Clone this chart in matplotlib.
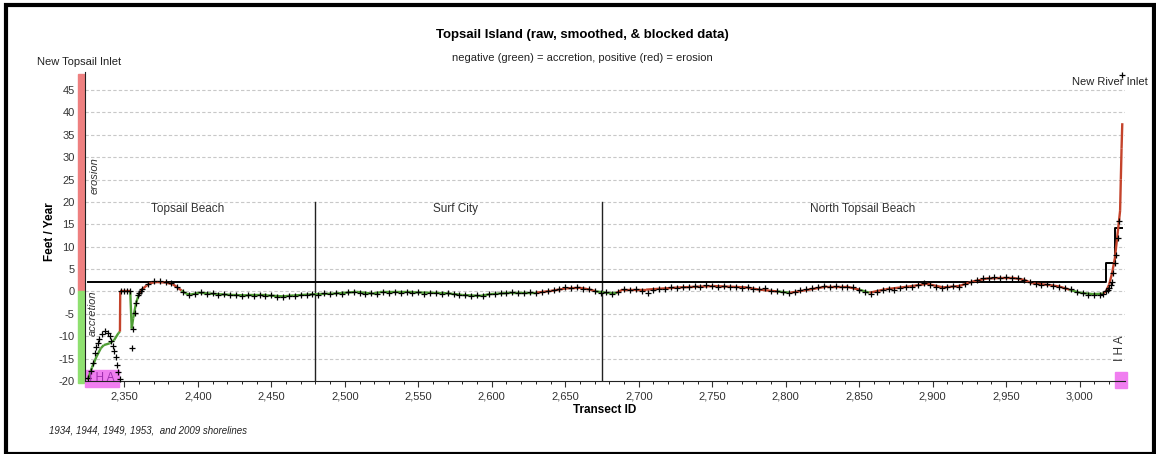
import numpy as np
import matplotlib
matplotlib.use("Agg")
import matplotlib.pyplot as plt
from matplotlib.collections import LineCollection
from matplotlib.patches import Rectangle
from matplotlib.ticker import MultipleLocator, FuncFormatter

plt.rcParams['font.family'] = ['Liberation Sans', 'DejaVu Sans']
plt.rcParams['axes.unicode_minus'] = False

# smoothed rate (feet / year) at transect IDs
sm_ids = [2325, 2328, 2331, 2334, 2336, 2340, 2343, 2346, 2347, 2347.2, 2354, 2355,
          2356, 2358, 2360, 2362, 2365, 2368, 2372, 2378, 2383, 2386, 2389, 2392,
          2395, 2401, 2413, 2424, 2435, 2447, 2458, 2465, 2481, 2492, 2508, 2519,
          2524, 2546, 2569, 2580, 2592, 2599, 2614, 2630, 2640, 2651, 2660, 2667,
          2671, 2678, 2685, 2689, 2705, 2728, 2751, 2773, 2782, 2794, 2803, 2812,
          2828, 2841, 2850, 2857, 2868, 2884, 2896, 2907, 2918, 2927, 2937, 2946,
          2955, 2962, 2968, 2980, 2986, 2993, 3000, 3009, 3016, 3018, 3020, 3022,
          3024, 3026, 3027.5, 3028, 3028.5, 3029]
sm_vals = [-19.8, -17.0, -14.6, -12.7, -12.0, -11.6, -10.9, -9.3, -9.0, 0.0, 0.0, -8.3,
           -6.0, -2.5, -0.6, 0.4, 1.3, 1.9, 2.1, 2.0, 1.6, 0.9, 0.2, -0.5,
           -0.7, -0.3, -0.6, -0.8, -0.9, -0.9, -1.1, -0.9, -0.6, -0.5, -0.1, -0.5,
           -0.2, -0.2, -0.4, -0.8, -1.0, -0.6, -0.3, -0.3, 0.1, 0.7, 0.8, 0.4,
           0.0, -0.3, -0.3, 0.4, 0.4, 0.9, 1.2, 0.9, 0.4, 0.0, -0.3, 0.2,
           1.1, 1.1, 0.4, -0.3, 0.5, 1.1, 1.7, 0.9, 1.2, 2.2, 2.9, 3.0,
           3.0, 2.6, 1.8, 1.4, 1.1, 0.4, -0.3, -0.6, -0.5, 0.1, 1.5, 4.0,
           7.5, 13.5, 18.0, 25.0, 32.0, 37.6]

# raw rates, left inlet area
raw_left_ids = [2325, 2327, 2329, 2330, 2331, 2332, 2333, 2335, 2337, 2339, 2340, 2341,
                2342, 2343, 2344, 2345, 2346, 2347, 2348, 2350, 2352, 2354, 2355, 2356,
                2357, 2358, 2359, 2360, 2361]
raw_left_vals = [-19.3, -17.8, -16.0, -13.8, -12.5, -11.6, -10.6, -9.5, -8.8, -9.2, -9.9, -11.0,
                 -12.2, -13.4, -14.6, -16.5, -18.0, -19.5, 0.0, 0.0, 0.0, 0.0, -12.7, -8.3,
                 -4.9, -2.6, -0.9, -0.3, 0.2]

# raw rates along the island, every 4th transect from 2362
raw_ids = np.arange(2362, 3015, 4)
raw_vals = [
    0.6, 1.6, 2.3, 2.4, 2.1, 1.8, 1.0, -0.2, -0.9, -0.5,
    -0.2, -0.6, -0.4, -0.8, -0.6, -0.9, -0.7, -1.0, -0.8, -1.0,
    -0.7, -1.1, -0.9, -1.2, -1.3, -1.0, -1.1, -0.7, -0.8, -0.5,
    -0.7, -0.4, -0.6, -0.3, -0.5, -0.2, -0.1, -0.4, -0.6, -0.3,
    -0.5, -0.1, -0.3, -0.2, -0.4, -0.1, -0.3, -0.2, -0.5, -0.3,
    -0.4, -0.6, -0.3, -0.6, -0.9, -0.7, -1.1, -0.9, -1.0, -0.5,
    -0.6, -0.3, -0.4, -0.2, -0.4, -0.3, -0.1, -0.4, -0.2, 0.2,
    0.3, 0.6, 0.9, 0.7, 1.0, 0.6, 0.5, 0.1, -0.4, -0.2,
    -0.6, -0.1, 0.6, 0.3, 0.5, 0.2, -0.3, 0.4, 0.6, 0.5,
    0.9, 0.7, 1.1, 1.0, 1.3, 1.1, 1.4, 1.2, 1.0, 1.3,
    0.9, 1.1, 0.8, 1.0, 0.6, 0.5, 0.7, 0.2, 0.1, -0.2,
    -0.4, -0.1, 0.3, 0.5, 0.7, 0.9, 1.2, 1.0, 1.3, 1.1,
    0.9, 1.0, 0.4, -0.1, -0.5, -0.2, 0.3, 0.6, 0.4, 0.8,
    1.1, 0.9, 1.4, 1.8, 1.5, 1.1, 0.8, 1.0, 1.2, 1.1,
    1.6, 2.1, 2.6, 2.9, 3.1, 3.2, 3.0, 3.3, 3.1, 2.9,
    2.6, 2.0, 1.7, 1.5, 1.6, 1.2, 1.0, 0.7, 0.5, -0.1,
    -0.4, -0.7, -0.8, -0.7]

# raw rates, right inlet area
raw_right_ids = [3016, 3018, 3019, 3020, 3021, 3022, 3023, 3024, 3025, 3026, 3027, 3029]
raw_right_vals = [-0.5, 0.0, 0.4, 0.8, 1.5, 2.2, 4.1, 6.4, 8.1, 11.9, 15.8, 48.3]

# blocked rates (step line)
block_ids = [2325, 3018, 3024, 3029]
block_vals = [2.0, 6.4, 14.1, 14.1]

# community boundaries
boundaries = [2480, 2675]
regions = ['Topsail Beach', 'Surf City', 'North Topsail Beach']
region_x = [2393, 2575, 2852]

fig = plt.figure(figsize=(11.56, 4.54), dpi=100)
ax = fig.add_axes([0.0735, 0.161, 0.8995, 0.68])
ax.set_xlim(2323.2, 3030.7)
ax.set_ylim(-20, 49)

# gridlines
for v in range(-15, 50, 5):
    ax.axhline(v, color='#c8c8c8', lw=0.8, ls=(0, (3, 2)), zorder=0)

# boundaries and region names
for b in boundaries:
    ax.plot([b, b], [-20, 20], color='#222222', lw=1.0, zorder=1)
for name, rx in zip(regions, region_x):
    ax.text(rx, 18.5, name, ha='center', va='center', fontsize=8.5, color='#333333')

# blocked data
ax.plot(block_ids, block_vals, drawstyle='steps-post', color='black', lw=1.4, zorder=3)

# smoothed data, coloured by sign
pts = np.column_stack([sm_ids, sm_vals])
segs = np.stack([pts[:-1], pts[1:]], axis=1)
cols = ['#c4432b' if v >= 0 else '#4f9e35' for v in sm_vals[1:]]
ax.add_collection(LineCollection(segs, colors=cols, linewidths=1.7, zorder=4))

# raw data
for ids, vals in [(raw_left_ids, raw_left_vals), (raw_ids, raw_vals), (raw_right_ids, raw_right_vals)]:
    ax.plot(ids, vals, ls='none', marker='+', ms=4.5, mew=0.9, color='black', zorder=5, clip_on=False)

# side bars for erosion / accretion
ax.add_patch(Rectangle((2318.4, 0), 4.2, 48.5, color='#ee8080', clip_on=False, zorder=2))
ax.add_patch(Rectangle((2318.4, -20.5), 4.2, 20.5, color='#8fe070', clip_on=False, zorder=2))
ax.text(2330, 26, 'erosion', rotation=90, style='italic', fontsize=8, color='#333333',
        ha='center', va='center')
ax.text(2328.6, -4.8, 'accretion', rotation=90, style='italic', fontsize=8, color='#333333',
        ha='center', va='center')

# IHA blocks
ax.add_patch(Rectangle((2323.2, -21.3), 23.1, 3.8, color='#f07ef0', clip_on=False, zorder=2))
ax.text(2334.5, -19.3, 'I H A', ha='center', va='center', fontsize=8.5, color='#a030b0', zorder=6)
ax.add_patch(Rectangle((3023.7, -21.6), 8.2, 3.6, color='#f07ef0', clip_on=False, zorder=2))
ax.text(3027.5, -12.6, 'I H A', rotation=90, ha='center', va='center', fontsize=8.5, color='#333333')

# axes styling
for s in ['top', 'right']:
    ax.spines[s].set_visible(False)
ax.spines['left'].set_color('#222222')
ax.spines['bottom'].set_color('#222222')
ax.xaxis.set_minor_locator(MultipleLocator(10))
ax.set_xticks(range(2350, 3001, 50))
ax.xaxis.set_major_formatter(FuncFormatter(lambda v, p: f'{int(v):,}'))
ax.set_yticks(range(-20, 46, 5))
ax.tick_params(axis='both', labelsize=8, colors='#333333', length=4)
ax.tick_params(axis='x', which='minor', length=2)
ax.set_xlabel('Transect ID', fontsize=8.5, fontweight='bold', labelpad=2)

fig.text(0.043, 0.49, 'Feet / Year', rotation=90, fontsize=8.5, fontweight='bold',
         ha='center', va='center')
fig.text(0.504, 0.923, 'Topsail Island (raw, smoothed, & blocked data)', fontsize=9.5,
         fontweight='bold', ha='center', va='center')
fig.text(0.504, 0.872, 'negative (green) = accretion, positive (red) = erosion', fontsize=8,
         ha='center', va='center', color='#222222')
fig.text(0.068, 0.863, 'New Topsail Inlet', fontsize=8, ha='center', va='center', color='#222222')
fig.text(0.960, 0.819, 'New River Inlet', fontsize=8, ha='center', va='center', color='#222222')
fig.text(0.042, 0.051, '1934, 1944, 1949, 1953,  and 2009 shorelines', fontsize=7,
         style='italic', ha='left', va='center', color='#222222')

# outer frame
fig.add_artist(Rectangle((0.005, 0.0), 0.993, 0.99, transform=fig.transFigure, fill=False,
                         edgecolor='black', lw=3))

fig.savefig('out.png', dpi=100)
